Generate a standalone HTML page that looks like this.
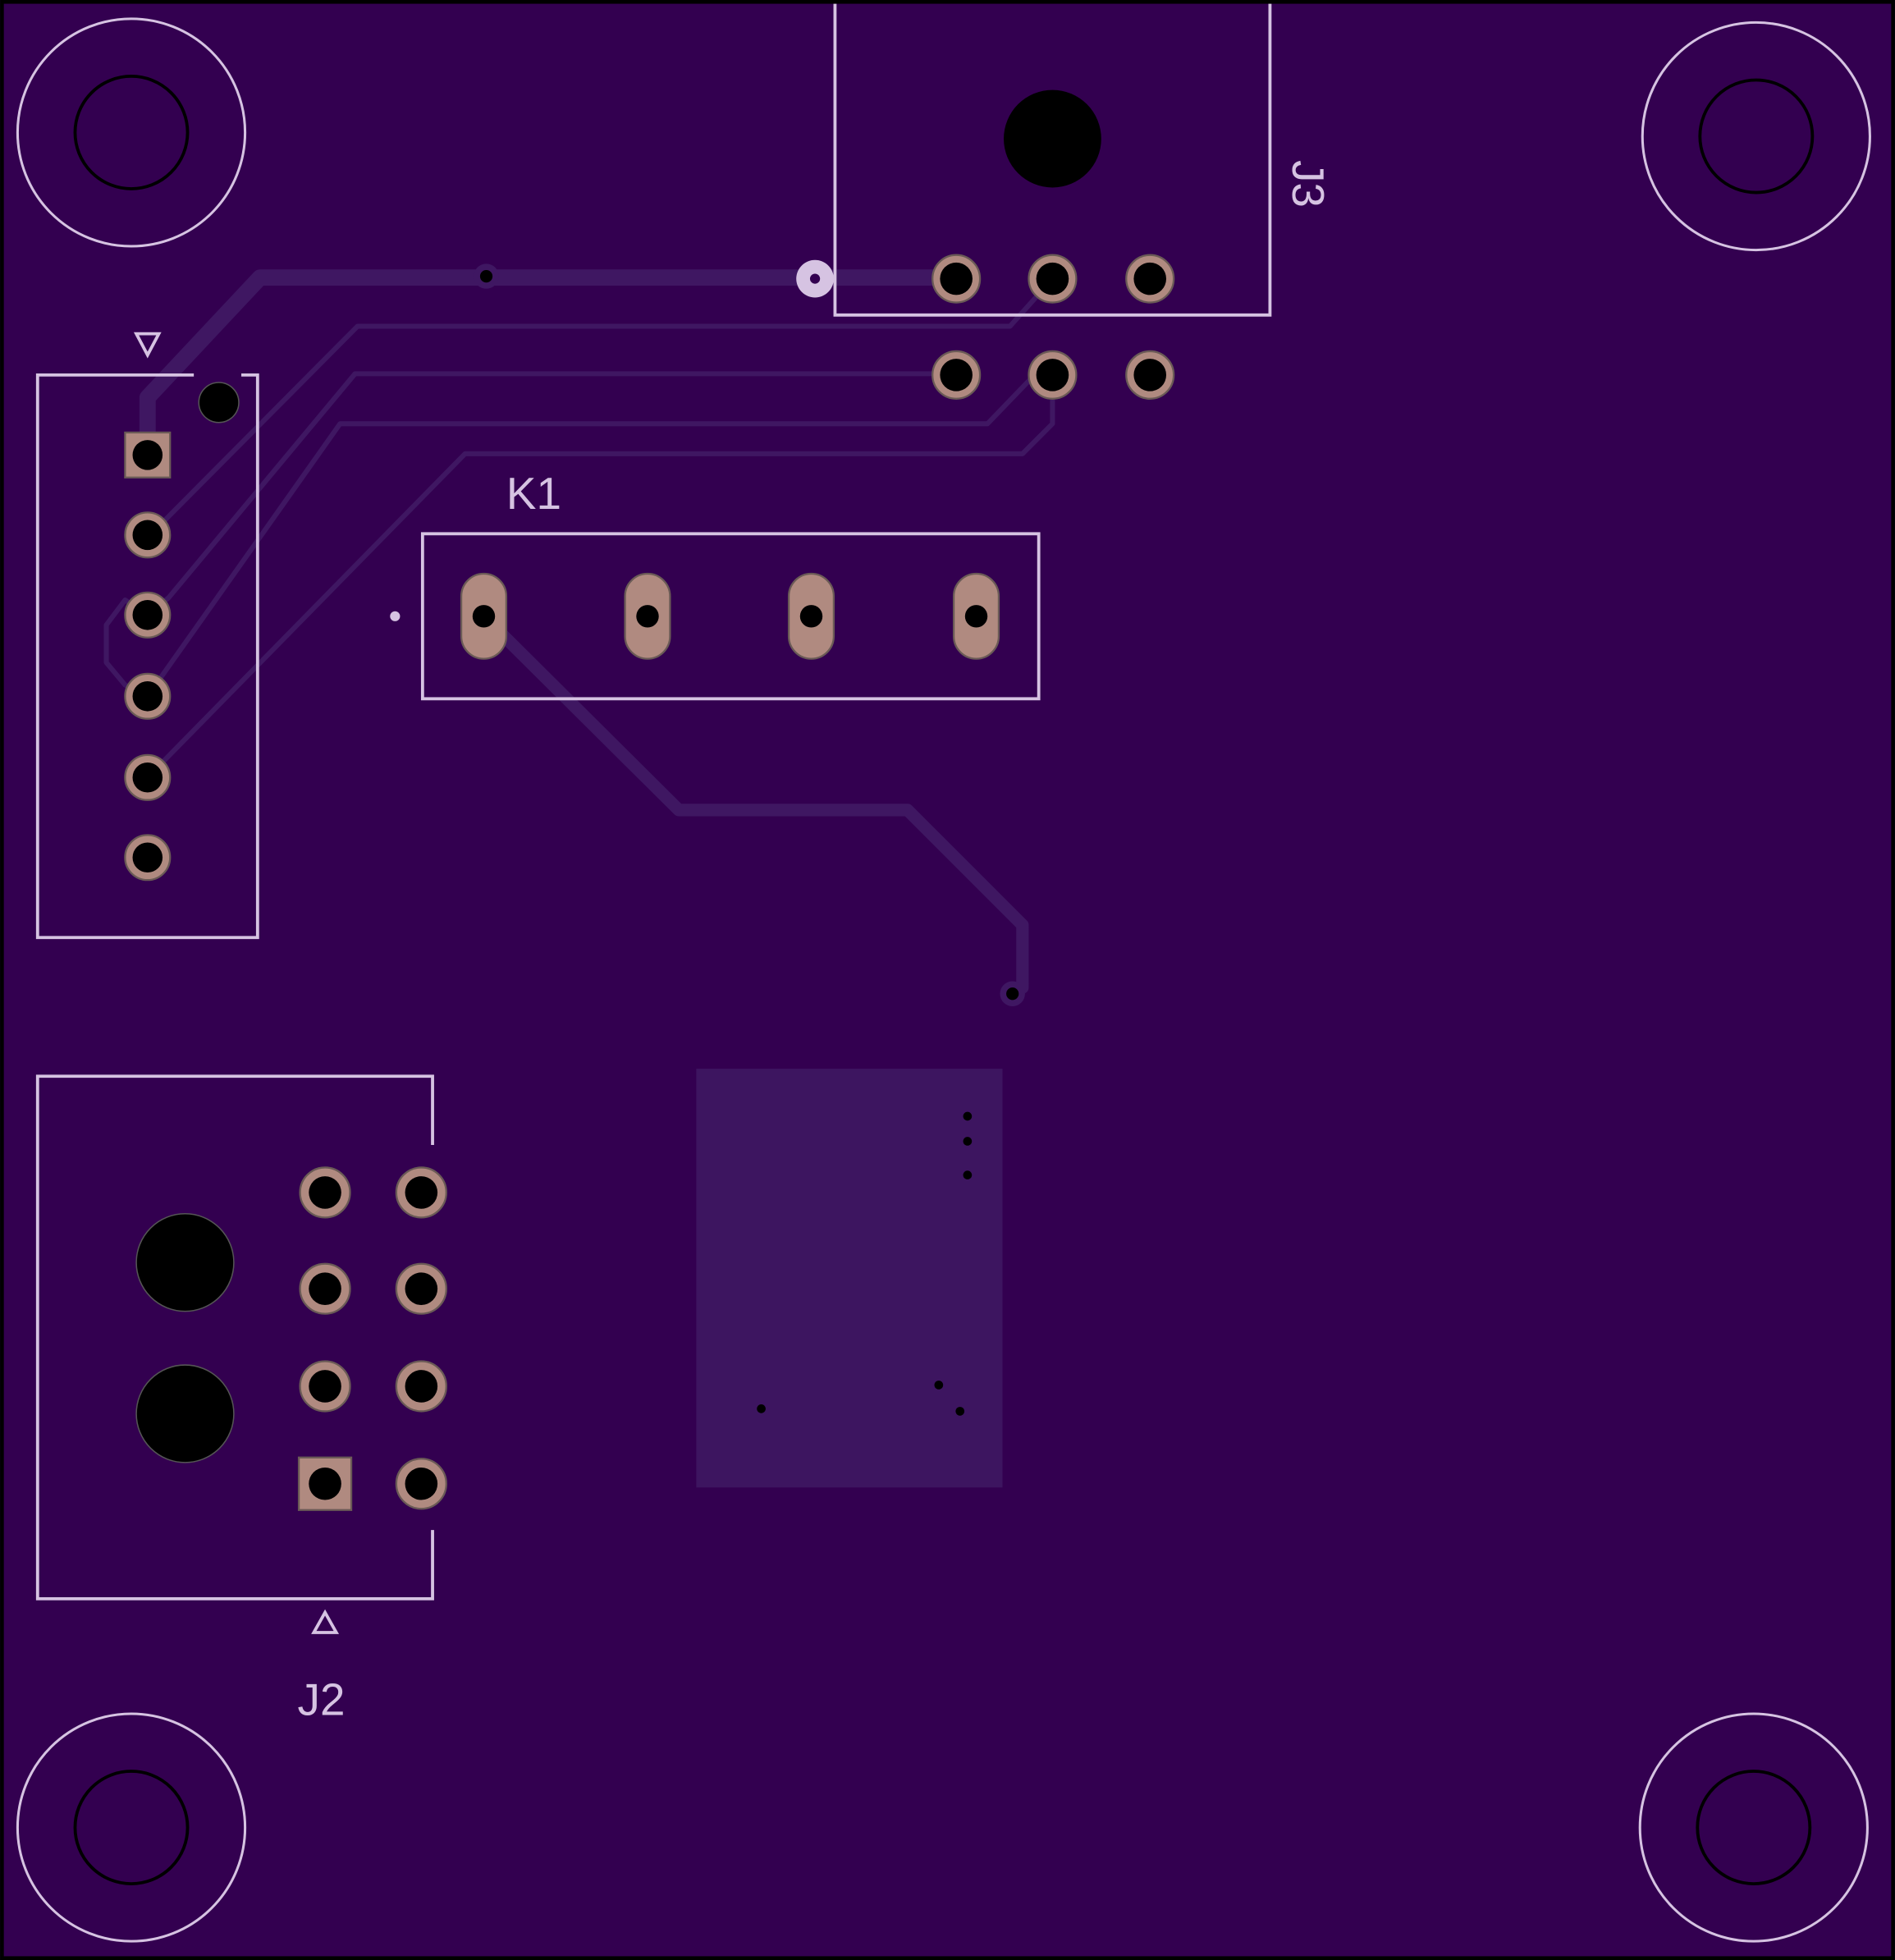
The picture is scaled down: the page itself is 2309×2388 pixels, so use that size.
<!DOCTYPE html>
<html><head><style>html,body{margin:0;padding:0;background:#330050}svg{display:block}</style></head>
<body>
<svg width="2309" height="2388" viewBox="0 0 1516 1568" xmlns="http://www.w3.org/2000/svg">
<rect x="1.5" y="1.5" width="1513" height="1565" fill="#330050" stroke="#000" stroke-width="3"/>
<g fill="none" stroke="#d6c3e2" stroke-width="2">
<circle cx="105" cy="106" r="91"/><circle cx="1405" cy="109" r="91"/>
<circle cx="105" cy="1462" r="91"/><circle cx="1403" cy="1462" r="91"/>
</g>
<g fill="none" stroke="#000" stroke-width="2.5">
<circle cx="105" cy="106" r="45"/><circle cx="1405" cy="109" r="45"/>
<circle cx="105" cy="1462" r="45"/><circle cx="1403" cy="1462" r="45"/>
</g>
<rect x="557" y="855" width="245" height="335" fill="#3d1560"/>
<g fill="none" stroke="#3f1762" stroke-linejoin="round" stroke-linecap="round">
<polyline stroke-width="13" points="118,360 118,318 208,222 765,222"/>
<polyline stroke-width="4" points="118,428 130,418 286,261 808,261 842,223"/>
<polyline stroke-width="4" points="118,492 135,478 284,299 765,299"/>
<polyline stroke-width="4" points="118,492 100,480 85,500 85,530 100,548 118,557"/>
<polyline stroke-width="4" points="118,557 272,339 790,339 842,285"/>
<polyline stroke-width="4" points="118,622 372,363 818,363 842,339 842,300"/>
<polyline stroke-width="10" points="387,493 543,648 726,648 818,740 818,790 810,795"/>
</g>
<circle cx="389" cy="221" r="10" fill="#3f1762"/><circle cx="389" cy="221" r="5" fill="#000"/>
<circle cx="810" cy="795" r="10" fill="#3f1762"/><circle cx="810" cy="795" r="5" fill="#000"/>
<circle cx="652" cy="223" r="15" fill="#d6c3e2"/><circle cx="652" cy="223" r="4" fill="#330050"/>
<g fill="none" stroke="#d6c3e2" stroke-width="2.5">
<polyline points="668,3 668,252 1016,252 1016,3"/>
<polyline points="155,300 30,300 30,750 206,750 206,300 193,300"/>
<rect x="338" y="427" width="493" height="132"/>
<polyline points="346,916 346,861 30,861 30,1279 346,1279 346,1224"/>
<polygon points="109,267 127,267 118,284"/>
<polygon points="260,1290 251,1306 269,1306"/>
</g>
<circle cx="316" cy="493" r="4" fill="#d6c3e2"/>
<g font-family="Liberation Sans, DejaVu Sans, sans-serif" font-size="36" fill="#d6c3e2">
<text x="405" y="407">K1</text>
<text x="238" y="1372">J2</text>
<text transform="translate(1034,128) rotate(90)">J3</text>
</g>
<circle cx="842" cy="111" r="39" fill="#000"/>
<circle cx="148" cy="1010" r="39" fill="#000" stroke="#555" stroke-width="1"/>
<circle cx="148" cy="1131" r="39" fill="#000" stroke="#555" stroke-width="1"/>
<circle cx="175" cy="322" r="16" fill="#000" stroke="#555" stroke-width="1"/>
<g fill="#b08a80" stroke="#6a5a56" stroke-width="1.5">
<circle cx="765" cy="223" r="19"/><circle cx="842" cy="223" r="19"/><circle cx="920" cy="223" r="19"/>
<circle cx="765" cy="300" r="19"/><circle cx="842" cy="300" r="19"/><circle cx="920" cy="300" r="19"/>
<rect x="100" y="346" width="36" height="36"/>
<circle cx="118" cy="428" r="18"/><circle cx="118" cy="492" r="18"/><circle cx="118" cy="557" r="18"/>
<circle cx="118" cy="622" r="18"/><circle cx="118" cy="686" r="18"/>
<rect x="369" y="459" width="36" height="68" rx="18"/><rect x="500" y="459" width="36" height="68" rx="18"/>
<rect x="631" y="459" width="36" height="68" rx="18"/><rect x="763" y="459" width="36" height="68" rx="18"/>
<circle cx="260" cy="954" r="20"/><circle cx="337" cy="954" r="20"/>
<circle cx="260" cy="1031" r="20"/><circle cx="337" cy="1031" r="20"/>
<circle cx="260" cy="1109" r="20"/><circle cx="337" cy="1109" r="20"/>
<rect x="239" y="1166" width="42" height="42"/><circle cx="337" cy="1187" r="20"/>
</g>
<g fill="#000">
<circle cx="765" cy="223" r="13"/><circle cx="842" cy="223" r="13"/><circle cx="920" cy="223" r="13"/>
<circle cx="765" cy="300" r="13"/><circle cx="842" cy="300" r="13"/><circle cx="920" cy="300" r="13"/>
<circle cx="118" cy="364" r="12"/><circle cx="118" cy="428" r="12"/><circle cx="118" cy="492" r="12"/>
<circle cx="118" cy="557" r="12"/><circle cx="118" cy="622" r="12"/><circle cx="118" cy="686" r="12"/>
<circle cx="387" cy="493" r="9"/><circle cx="518" cy="493" r="9"/><circle cx="649" cy="493" r="9"/><circle cx="781" cy="493" r="9"/>
<circle cx="260" cy="954" r="13"/><circle cx="337" cy="954" r="13"/>
<circle cx="260" cy="1031" r="13"/><circle cx="337" cy="1031" r="13"/>
<circle cx="260" cy="1109" r="13"/><circle cx="337" cy="1109" r="13"/>
<circle cx="260" cy="1187" r="13"/><circle cx="337" cy="1187" r="13"/>
<circle cx="774" cy="893" r="3.5"/><circle cx="774" cy="913" r="3.5"/><circle cx="774" cy="940" r="3.5"/>
<circle cx="609" cy="1127" r="3.5"/><circle cx="751" cy="1108" r="3.5"/><circle cx="768" cy="1129" r="3.5"/>
</g>
</svg>
</body></html>
